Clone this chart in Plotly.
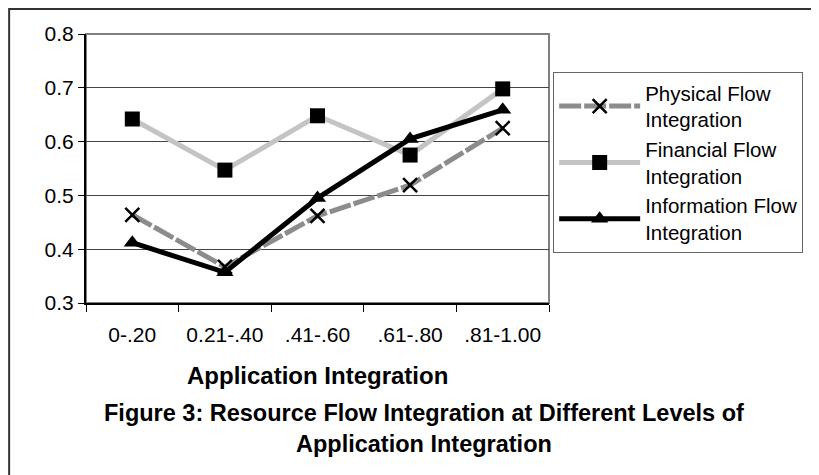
import plotly.graph_objects as go

categories = ["0-.20", "0.21-.40", ".41-.60", ".61-.80", ".81-1.00"]
physical = [0.464, 0.367, 0.462, 0.519, 0.625]
financial = [0.642, 0.547, 0.648, 0.575, 0.698]
information = [0.412, 0.357, 0.495, 0.605, 0.659]

FONT = "Liberation Sans, Arial, sans-serif"

fig = go.Figure()

fig.add_trace(go.Scatter(
    x=categories, y=physical, name="Physical Flow<br>Integration",
    mode="lines+markers",
    line=dict(color="#8c8c8c", width=5, dash="22px,3px"),
    marker=dict(symbol="x-thin-open", size=14, color="black", line=dict(color="black", width=2.5))))

fig.add_trace(go.Scatter(
    x=categories, y=financial, name="Financial Flow<br>Integration",
    mode="lines+markers",
    line=dict(color="#c4c4c4", width=5),
    marker=dict(symbol="square", size=15, color="black")))

fig.add_trace(go.Scatter(
    x=categories, y=information, name="Information Flow<br>Integration",
    mode="lines+markers",
    line=dict(color="black", width=5),
    marker=dict(symbol="triangle-up", size=15, color="black")))

# outer figure frame and plot-area border
fig.add_shape(type="rect", xref="paper", yref="paper", x0=-0.166, x1=1.579, y0=-0.7, y1=1.093,
              line=dict(color="#333", width=2), layer="below")
fig.add_shape(type="rect", xref="paper", yref="paper", x0=0, x1=1, y0=0, y1=1,
              line=dict(color="#808080", width=2), layer="below")

fig.add_annotation(text="<b>Application Integration</b>", xref="paper", yref="paper",
                   x=0.5, y=-0.268, xanchor="center", yanchor="middle", showarrow=False,
                   font=dict(size=24, color="black", family=FONT))
fig.add_annotation(text="<b>Figure 3: Resource Flow Integration at Different Levels of<br>Application Integration</b>",
                   xref="paper", yref="paper", x=0.730, y=-0.465, xanchor="center", yanchor="middle",
                   showarrow=False, font=dict(size=23.5, color="black", family=FONT))

fig.update_layout(
    width=811, height=467,
    margin=dict(l=78, r=270, t=26, b=172),
    paper_bgcolor="white", plot_bgcolor="white",
    font=dict(family=FONT, size=21, color="black"),
    showlegend=True,
    legend=dict(x=1.009, y=0.859, xanchor="left", yanchor="top",
                bordercolor="#666", borderwidth=1, bgcolor="white",
                font=dict(size=20.5), itemwidth=81, tracegroupgap=0),
    xaxis=dict(type="category", range=[-0.5, 4.5], tickson="boundaries",
               ticks="outside", ticklen=7, tickcolor="black", showline=True,
               linecolor="black", linewidth=2, showgrid=False, ticklabelstandoff=12),
    yaxis=dict(range=[0.3, 0.8], dtick=0.1, tickformat=".1f", ticks="outside",
               ticklen=6, tickcolor="black", showline=True, linecolor="black", linewidth=2,
               showgrid=True, gridcolor="#444", gridwidth=1, zeroline=False),
)

fig.write_html("out.html")
